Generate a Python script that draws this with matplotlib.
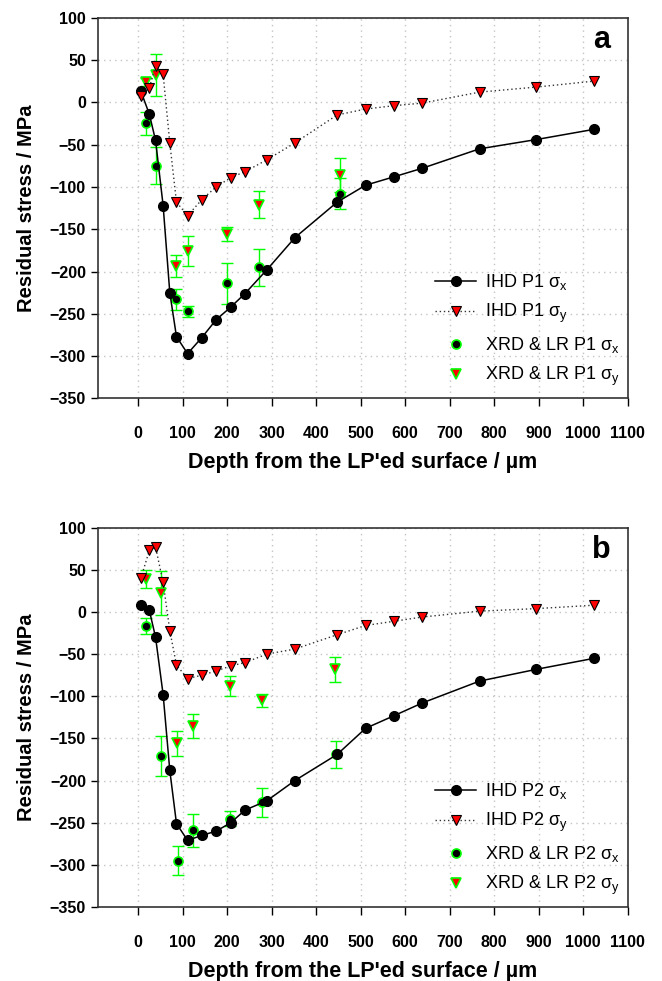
import matplotlib
matplotlib.use("Agg")
import matplotlib.pyplot as plt

plt.rcParams["font.family"] = ["Liberation Sans", "DejaVu Sans"]
plt.rcParams["mathtext.default"] = "regular"

# ── IHD depths (µm), shared by both panels ─────────────────────────────────
depth = [6, 25, 39, 56, 71, 86, 111, 143, 175, 208, 240, 289, 352, 447,
         511, 575, 638, 767, 895, 1024]

# panel a (P1)
ihd_p1_sx = [13, -14, -45, -122, -225, -277, -297, -278, -257, -242, -226,
             -198, -160, -118, -98, -88, -78, -55, -44, -32]
ihd_p1_sy = [7, 17, 43, 33, -48, -118, -134, -115, -100, -89, -82, -68,
             -48, -15, -8, -4, -1, 12, 18, 25]
xrd_p1_x = [17, 39, 86, 113, 200, 272, 453]
xrd_p1_sx = [-25, -75, -233, -247, -214, -195, -108]
xrd_p1_sx_err = [14, 22, 12, 6.5, 24, 22, 18]
xrd_p1_sy = [24, 32, -194, -176, -156, -121, -86]
xrd_p1_sy_err = [5, 25, 13, 18, 8.5, 16, 20]

# panel b (P2)
ihd_p2_sx = [8, 2, -30, -98, -188, -251, -271, -265, -260, -250, -235,
             -224, -200, -169, -138, -123, -108, -82, -68, -55]
ihd_p2_sy = [40, 73, 77, 35, -22, -63, -79, -75, -70, -64, -60, -50, -44,
             -27, -16, -11, -6, 1, 4, 8]
xrd_p2_x_sx = [17, 51, 89, 124, 206, 278, 444]
xrd_p2_sx = [-16.5, -170.5, -295, -259, -245, -226, -168.5]
xrd_p2_sx_err = [9.5, 23.5, 17, 19.3, 8.5, 17.7, 16]
xrd_p2_x_sy = [17, 51, 87, 124, 206, 278, 442]
xrd_p2_sy = [39.5, 22.5, -156, -135, -88, -105, -68]
xrd_p2_sy_err = [10.5, 25.7, 15.4, 14, 12, 7.4, 15]

x_ticks = list(range(0, 1101, 100))
y_ticks = list(range(-350, 101, 50))

GREEN = "#00ff00"
RED = "#ff0000"


def draw_panel(ax, tag, sx, sy, xx, xsx, xsx_err, xy, xsy, xsy_err, letter):
    # XRD & LR points with error bars (underneath the IHD curves)
    ax.errorbar(xx, xsx, yerr=xsx_err, fmt="none", ecolor=GREEN,
                elinewidth=1.0, capsize=4.5, capthick=1.0, zorder=3)
    ax.errorbar(xy, xsy, yerr=xsy_err, fmt="none", ecolor=GREEN,
                elinewidth=1.0, capsize=4.5, capthick=1.0, zorder=3)
    h3, = ax.plot(xx, xsx, "o", ls="none", ms=6.5, mfc="black", mec=GREEN,
                  mew=1.2, zorder=4, label=f"XRD & LR {tag} σ$_x$")
    h4, = ax.plot(xy, xsy, "v", ls="none", ms=6.5, mfc=RED, mec=GREEN,
                  mew=1.2, zorder=4, label=f"XRD & LR {tag} σ$_y$")

    # IHD profiles
    h1, = ax.plot(depth, sx, "-o", color="black", lw=1.1, ms=7,
                  mfc="black", mec="black", zorder=5,
                  label=f"IHD {tag} σ$_x$")
    h2, = ax.plot(depth, sy, "v", color="#333333", ls=(0, (1, 2)), lw=1.0,
                  ms=7.5, mfc=RED, mec="black", mew=0.8, zorder=5,
                  label=f"IHD {tag} σ$_y$")

    ax.set_xlim(-91, 1100)
    ax.set_ylim(-350, 100)
    ax.set_xticks(x_ticks)
    ax.set_yticks(y_ticks)
    ax.grid(True, color="#c4c4c4", ls=(0, (1, 3)), lw=1.0)
    ax.set_axisbelow(True)
    for s in ax.spines.values():
        s.set_linewidth(1.2)
        s.set_color("#333333")
    ax.tick_params(axis="x", direction="out", length=6, width=1.0, pad=14,
                   labelsize=11.5)
    ax.tick_params(axis="y", direction="out", length=5, width=1.0, pad=3.5,
                   labelsize=11.5)
    for lbl in ax.get_xticklabels() + ax.get_yticklabels():
        lbl.set_fontweight("bold")
    ax.set_xlabel("Depth from the LP'ed surface / µm", fontsize=15.5,
                  fontweight="bold", labelpad=8)
    ax.set_ylabel("Residual stress / MPa", fontsize=14.5, fontweight="bold",
                  labelpad=10)
    ax.annotate(letter, xy=(1, 1), xycoords="axes fraction",
                xytext=(-12.5, -5), textcoords="offset points",
                ha="right", va="top", fontsize=22, fontweight="bold")
    ax.legend(handles=[h1, h2, h3, h4], loc="upper left",
              bbox_to_anchor=(0.636, 0.332), frameon=False, fontsize=13,
              handlelength=2.3, handletextpad=0.5, labelspacing=0.55,
              borderpad=0, borderaxespad=0, numpoints=1)


fig = plt.figure(figsize=(6.62, 9.81), dpi=100)
ax_a = fig.add_axes([0.1476, 0.5938, 0.8006, 0.3882])
ax_b = fig.add_axes([0.1476, 0.0754, 0.8006, 0.3867])

draw_panel(ax_a, "P1", ihd_p1_sx, ihd_p1_sy, xrd_p1_x, xrd_p1_sx,
           xrd_p1_sx_err, xrd_p1_x, xrd_p1_sy, xrd_p1_sy_err, "a")
draw_panel(ax_b, "P2", ihd_p2_sx, ihd_p2_sy, xrd_p2_x_sx, xrd_p2_sx,
           xrd_p2_sx_err, xrd_p2_x_sy, xrd_p2_sy, xrd_p2_sy_err, "b")

fig.savefig("out.png", dpi=100)
